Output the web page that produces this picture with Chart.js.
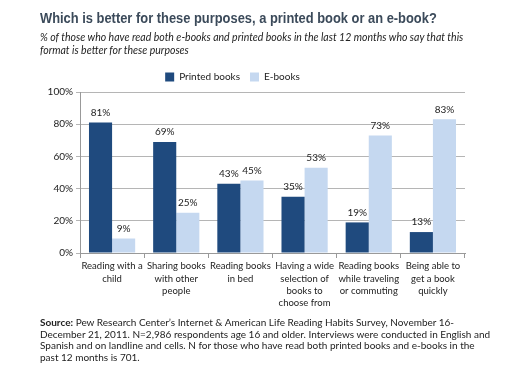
<!DOCTYPE html>
<html>
<head>
<meta charset="utf-8">
<script src="https://cdn.jsdelivr.net/npm/chart.js@4"></script>
<style>
  body { margin: 0; background: #fff; }
  #wrap { position: relative; width: 518px; height: 372px; overflow: hidden; }
  #chart { position: absolute; left: 0; top: 0; }
  .title { position: absolute; left: 40px; top: 9px; font: bold 15px "Liberation Sans", Arial, sans-serif; color: #3b4a5a; white-space: nowrap; transform-origin: 0 0; }
  .sub { position: absolute; left: 40px; top: 31px; font: italic 10.5px Lato, sans-serif; line-height: 13px; color: #222; white-space: nowrap; }
  .source { position: absolute; left: 40px; top: 317px; font: 10px Lato, sans-serif; line-height: 11.7px; color: #222; white-space: nowrap; }
</style>
</head>
<body>
<div id="wrap">
  <canvas id="chart" width="518" height="372"></canvas>
  <div class="title" id="title">Which is better for these purposes, a printed book or an e-book?</div>
  <div class="sub">% of those who have read both e-books and printed books in the last 12 months who say that this<br>format is better for these purposes</div>
  <div class="source"><b>Source:</b> Pew Research Center’s Internet &amp; American Life Reading Habits Survey, November 16-<br>December 21, 2011. N=2,986 respondents age 16 and older. Interviews were conducted in English and<br>Spanish and on landline and cells. N for those who have read both printed books and e-books in the<br>past 12 months is 701.</div>
</div>
<script>
// Dados do gráfico
const categories = [
    ['Reading with a', 'child'],
    ['Sharing books', 'with other', 'people'],
    ['Reading books', 'in bed'],
    ['Having a wide', 'selection of', 'books to', 'choose from'],
    ['Reading books', 'while traveling', 'or commuting'],
    ['Being able to', 'get a book', 'quickly']
];
const printedBooks = [81, 69, 43, 35, 19, 13];
const eBooks = [9, 25, 45, 53, 73, 83];
const yTicks = [0, 20, 40, 60, 80, 100];

// Ajustar a largura do título
const titleEl = document.getElementById('title');
titleEl.style.transform = 'scaleX(' + (397 / titleEl.offsetWidth) + ')';

// Rótulos de valor acima das barras
const valueLabels = {
    id: 'valueLabels',
    afterDatasetsDraw(chart) {
        const ctx = chart.ctx;
        ctx.save();
        ctx.font = '10px Lato, sans-serif';
        ctx.fillStyle = '#222';
        ctx.textAlign = 'center';
        ctx.textBaseline = 'middle';
        chart.data.datasets.forEach((ds, i) => {
            chart.getDatasetMeta(i).data.forEach((bar, j) => {
                ctx.fillText(ds.data[j] + '%', bar.x, bar.y - 10);
            });
        });
        ctx.restore();
    }
};

new Chart(document.getElementById('chart'), {
    type: 'bar',
    data: {
        labels: categories,
        datasets: [{
            label: 'Printed books',
            data: printedBooks,
            backgroundColor: '#1f4a7e'
        }, {
            label: 'E-books',
            data: eBooks,
            backgroundColor: '#c5d8f0'
        }]
    },
    options: {
        responsive: false,
        animation: false,
        categoryPercentage: 0.72,
        barPercentage: 1,
        layout: { padding: { top: 53, left: 0, right: 53, bottom: 57 } },
        plugins: {
            legend: {
                position: 'top',
                labels: {
                    boxWidth: 9,
                    boxHeight: 9,
                    padding: 10,
                    color: '#222',
                    font: { family: 'Lato, sans-serif', size: 10 }
                }
            },
            tooltip: { enabled: false }
        },
        scales: {
            x: {
                grid: { drawOnChartArea: false, offset: true, tickLength: 5, color: '#999' },
                border: { color: '#999' },
                ticks: {
                    color: '#222',
                    maxRotation: 0,
                    autoSkip: false,
                    padding: 2,
                    font: { family: 'Lato, sans-serif', size: 9.5, lineHeight: 1.3 }
                },
                afterFit(scale) { scale.height = 62; }
            },
            y: {
                min: 0,
                max: 100,
                afterBuildTicks(scale) { scale.ticks = yTicks.map(v => ({ value: v })); },
                grid: { color: '#b5b5b5', tickLength: 4 },
                border: { color: '#999' },
                ticks: {
                    color: '#222',
                    padding: 3,
                    font: { family: 'Lato, sans-serif', size: 10 },
                    callback: v => v + '%'
                },
                // área do gráfico começa em y=92
                afterFit(scale) { scale.width = 80; scale.paddingTop = 92; }
            }
        }
    },
    plugins: [valueLabels]
});
</script>
</body>
</html>
